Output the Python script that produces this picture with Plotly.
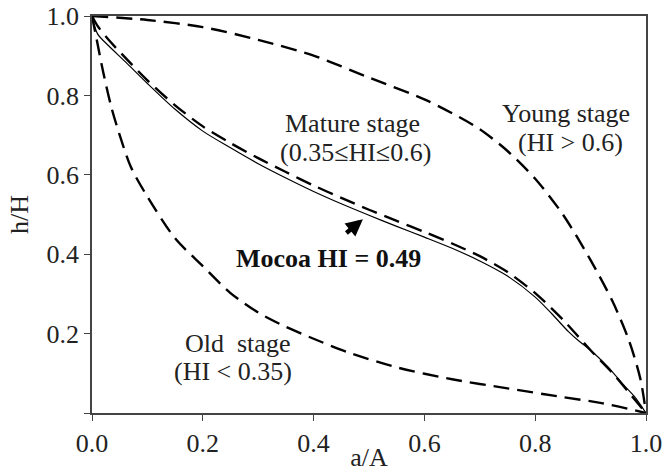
import plotly.graph_objects as go

# Young stage (HI > 0.6)
young_a = [0, 0.1, 0.2, 0.3, 0.4, 0.5, 0.6, 0.65, 0.7, 0.75, 0.8, 0.85, 0.9, 0.94, 0.97, 0.99, 1.0]
young_h = [1.0, 0.99, 0.972, 0.94, 0.9, 0.845, 0.79, 0.755, 0.715, 0.66, 0.59, 0.5, 0.385, 0.28, 0.18, 0.085, 0.0]

# Mature stage reference curve
mature_a = [0, 0.01, 0.03, 0.06, 0.1, 0.15, 0.2, 0.25, 0.3, 0.35, 0.4, 0.45, 0.5, 0.55, 0.6, 0.65, 0.7, 0.75,
            0.8, 0.85, 0.9, 0.94, 0.97, 1.0]
mature_h = [1.0, 0.975, 0.94, 0.895, 0.838, 0.775, 0.722, 0.68, 0.642, 0.607, 0.573, 0.542, 0.512, 0.484, 0.456,
            0.427, 0.395, 0.355, 0.302, 0.235, 0.158, 0.1, 0.05, 0.0]

# Old stage (HI < 0.35)
old_a = [0, 0.01, 0.02, 0.035, 0.05, 0.07, 0.1, 0.15, 0.2, 0.25, 0.3, 0.35, 0.4, 0.46, 0.55, 0.65, 0.75, 0.85, 0.92, 1.0]
old_h = [1.0, 0.93, 0.86, 0.77, 0.70, 0.62, 0.545, 0.44, 0.37, 0.302, 0.253, 0.217, 0.187, 0.154, 0.115, 0.085, 0.062, 0.04, 0.025, 0.0]

# Mocoa hypsometric curve
mocoa_a = [0, 0.01, 0.03, 0.06, 0.1, 0.15, 0.2, 0.25, 0.3, 0.35, 0.4, 0.45, 0.5, 0.55, 0.6, 0.65, 0.7, 0.75,
           0.8, 0.83, 0.86, 0.88, 0.9, 0.93, 0.96, 0.98, 1.0]
mocoa_h = [1.0, 0.955, 0.925, 0.885, 0.83, 0.765, 0.71, 0.668, 0.628, 0.592, 0.558, 0.527, 0.498, 0.47, 0.443,
           0.415, 0.383, 0.345, 0.292, 0.25, 0.205, 0.18, 0.158, 0.118, 0.07, 0.04, 0.0]

x_ticks = [0, 0.2, 0.4, 0.6, 0.8, 1.0]
x_ticktext = ["0.0", "0.2", "0.4", "0.6", "0.8", "1.0"]
y_ticks = [0, 0.2, 0.4, 0.6, 0.8, 1.0]
y_ticktext = ["", "0.2", "0.4", "0.6", "0.8", "1.0"]

FONT = "Liberation Serif, Times New Roman, serif"
dash_style = dict(color="black", width=2.4, dash="16px,8px")

fig = go.Figure()
for xa, ya in [(young_a, young_h), (mature_a, mature_h), (old_a, old_h)]:
    fig.add_trace(go.Scatter(x=xa, y=ya, mode="lines", line=dict(shape="spline", smoothing=0.8, **dash_style),
                             showlegend=False, hoverinfo="skip"))
fig.add_trace(go.Scatter(x=mocoa_a, y=mocoa_h, mode="lines",
                         line=dict(color="black", width=1.2, shape="spline", smoothing=0.8),
                         showlegend=False))

txt = dict(family=FONT, size=26, color="#222")
annots = [
    dict(x=0.47, y=0.73, text="Mature stage"),
    dict(x=0.475, y=0.655, text="(0.35≤HI≤0.6)"),
    dict(x=0.855, y=0.755, text="Young stage"),
    dict(x=0.863, y=0.682, text="(HI > 0.6)"),
    dict(x=0.262, y=0.176, text="Old  stage"),
    dict(x=0.255, y=0.105, text="(HI < 0.35)"),
]
for a in annots:
    fig.add_annotation(x=a["x"], y=a["y"], text=a["text"], showarrow=False, font=txt, xref="x", yref="y")

fig.add_annotation(x=0.426, y=0.39, text="<b>Mocoa HI = 0.49</b>", showarrow=False,
                   font=dict(family=FONT, size=26, color="#111"))
fig.add_annotation(x=0.489, y=0.488, ax=-18, ay=15, text="", showarrow=True, arrowhead=2,
                   arrowsize=0.75, arrowwidth=4.5, arrowcolor="black")

axis_common = dict(range=[0, 1], showline=True, linecolor="#444", linewidth=1.5, mirror=True,
                   ticks="outside", ticklen=6, tickcolor="#444", tickwidth=1.2, automargin=False,
                   showgrid=False, zeroline=False, tickfont=dict(family=FONT, size=26, color="#222"))

fig.update_xaxes(tickvals=x_ticks, ticktext=x_ticktext,
                 title=dict(text="a/A", font=dict(family=FONT, size=26, color="#222"), standoff=2),
                 **axis_common)
fig.update_yaxes(tickvals=y_ticks, ticktext=y_ticktext,
                 title=dict(text="h/H", font=dict(family=FONT, size=26, color="#222"), standoff=10),
                 **axis_common)

fig.update_layout(width=666, height=472, margin=dict(l=92, r=20, t=16, b=59),
                  plot_bgcolor="white", paper_bgcolor="white")

fig.write_html("out.html", config={"displayModeBar": False},
               post_script="document.body.style.margin='0';document.body.style.overflow='hidden';")
